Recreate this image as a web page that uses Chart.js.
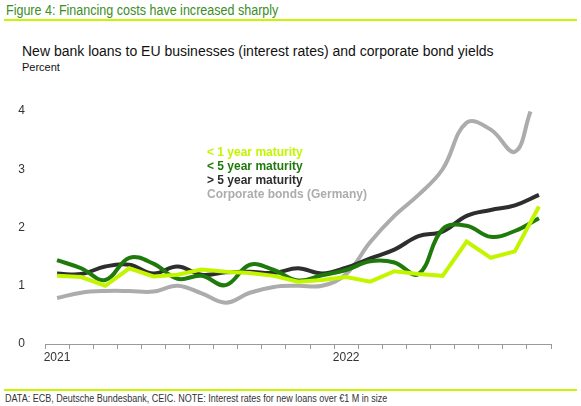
<!DOCTYPE html>
<html>
<head>
<meta charset="utf-8">
<script src="https://cdn.jsdelivr.net/npm/chart.js@4"></script>
<style>
  body { margin: 0; background: #fff; font-family: "Liberation Sans", Arial, sans-serif; }
  #page { position: relative; width: 581px; height: 406px; overflow: hidden; }
  .rule { position: absolute; left: 4px; width: 573px; height: 2px; background: #c6f500; }
  #fig { position: absolute; left: 6px; top: 2px; font-size: 14px; color: #3d8c1f; transform: scaleX(0.895); transform-origin: left top; white-space: nowrap; }
  #title { position: absolute; left: 22px; top: 43px; font-size: 14px; color: #111; white-space: nowrap; }
  #unit { position: absolute; left: 22px; top: 61px; font-size: 11px; color: #111; }
  #foot { position: absolute; left: 5px; top: 393px; font-size: 10px; color: #333; transform: scaleX(0.9); transform-origin: left top; white-space: nowrap; }
  #wrap { position: absolute; left: 0; top: 85px; width: 581px; height: 290px; }
  #legend { position: absolute; left: 207px; top: 145px; font-size: 12px; font-weight: bold; line-height: 14px; white-space: nowrap; }
</style>
</head>
<body>
<div id="page">
  <div id="fig">Figure 4: Financing costs have increased sharply</div>
  <div class="rule" style="top:19px"></div>
  <div id="title">New bank loans to EU businesses (interest rates) and corporate bond yields</div>
  <div id="unit">Percent</div>
  <div id="wrap"><canvas id="myChart"></canvas></div>
  <div id="legend"></div>
  <div class="rule" style="top:389px"></div>
  <div id="foot">DATA: ECB, Deutsche Bundesbank, CEIC. NOTE: Interest rates for new loans over €1 M in size</div>
</div>
<script>
// months Jan 2021 .. Sep 2022
const months = ['2021', '', '', '', '', '', '', '', '', '', '', '',
                '2022', '', '', '', '', '', '', '', ''];
const under1y = [1.17, 1.15, 1.0, 1.3, 1.16, 1.19, 1.28, 1.24, 1.22, 1.17, 1.07, 1.1,
                 1.15, 1.07, 1.25, 1.2, 1.17, 1.76, 1.48, 1.59, 2.36];
const under5y = [1.44, 1.3, 1.1, 1.48, 1.38, 1.12, 1.17, 1.01, 1.36, 1.27, 1.09, 1.18,
                 1.27, 1.42, 1.4, 1.2, 1.97, 2.03, 1.84, 1.94, 2.16];
const over5y = [1.21, 1.2, 1.33, 1.36, 1.21, 1.33, 1.19, 1.23, 1.24, 1.22, 1.3, 1.21,
                1.31, 1.47, 1.62, 1.85, 1.93, 2.2, 2.3, 2.38, 2.56];
// corporate bonds: position in months from Jan 2021, yield
const bondMonths = [0, 1, 2, 3, 4, 5, 6, 7, 8, 9, 10, 11, 12, 13, 14, 15, 16, 17, 18, 19, 19.65];
const bondYields = [0.79, 0.88, 0.91, 0.91, 0.9, 1.0, 0.87, 0.71, 0.88, 0.98, 1.0, 1.0,
                    1.2, 1.75, 2.2, 2.56, 3.0, 3.8, 3.68, 3.3, 3.99];
const yTicks = [0, 1, 2, 3, 4];

const seriesNames = ['< 1 year maturity', '< 5 year maturity', '> 5 year maturity', 'Corporate bonds (Germany)'];
const seriesColors = ['#c3f500', '#1f7a0c', '#2e2e2e', '#acacac'];

let ctx = document.getElementById('myChart').getContext('2d');

let chartData = {
    labels: months,
    datasets: [
        { label: seriesNames[0], data: under1y, borderColor: seriesColors[0], tension: 0 },
        { label: seriesNames[1], data: under5y, borderColor: seriesColors[1], tension: 0.4 },
        { label: seriesNames[2], data: over5y, borderColor: seriesColors[2], tension: 0.4 },
        {
            label: seriesNames[3],
            data: bondMonths.map((m, i) => ({ x: m, y: bondYields[i] })),
            borderColor: seriesColors[3],
            tension: 0.4,
            xAxisID: 'xb'
        }
    ]
};
chartData.datasets.forEach(ds => {
    ds.borderWidth = 4;
    ds.pointRadius = 0;
    ds.fill = false;
    ds.clip = false;
});

new Chart(ctx, {
    type: 'line',
    data: chartData,
    options: {
        responsive: true,
        maintainAspectRatio: false,
        animation: false,
        events: [],
        layout: { padding: { top: 26, right: 30, left: 0, bottom: 0 } },
        plugins: { legend: { display: false }, tooltip: { enabled: false } },
        scales: {
            x: {
                type: 'category',
                offset: true,
                grid: { display: true, drawOnChartArea: false, offset: true, tickLength: 5, color: '#9a9a9a' },
                border: { display: true, color: '#9a9a9a', width: 1 },
                ticks: {
                    autoSkip: false, maxRotation: 0, color: '#333', padding: 1,
                    font: { family: 'Liberation Sans', size: 12 },
                    callback: (v, i) => months[i]
                },
                afterFit: s => { s.height = 31; }
            },
            xb: {
                type: 'linear',
                display: false,
                min: -0.5,
                max: months.length - 0.5
            },
            y: {
                min: yTicks[0],
                max: yTicks[yTicks.length - 1],
                grid: { display: false },
                border: { display: false },
                afterBuildTicks: s => { s.ticks = yTicks.map(v => ({ value: v })); },
                ticks: { color: '#333', padding: 12, font: { family: 'Liberation Sans', size: 12 } },
                afterFit: s => { s.width = 45; }
            }
        }
    }
});

// legend inside the plot
const legend = document.getElementById('legend');
seriesNames.forEach((name, i) => {
    const d = document.createElement('div');
    d.textContent = name;
    d.style.color = seriesColors[i];
    legend.appendChild(d);
});
</script>
</body>
</html>
